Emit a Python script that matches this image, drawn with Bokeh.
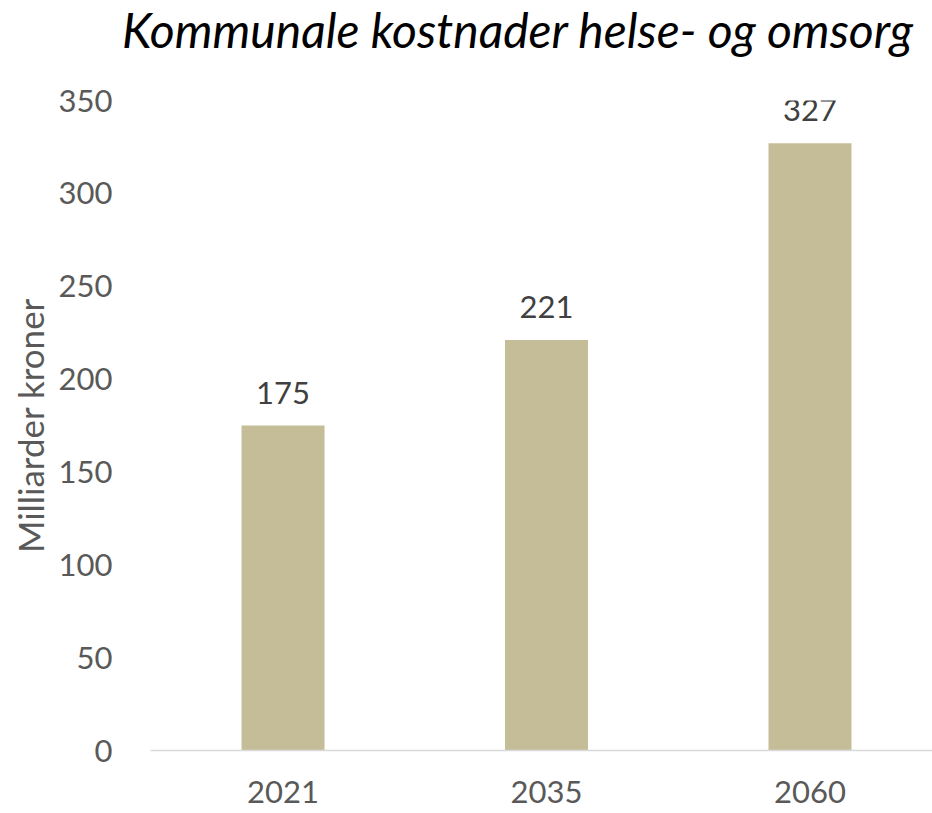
from bokeh.plotting import figure
from bokeh.layouts import column
from bokeh.models import Range1d, FixedTicker, ColumnDataSource, LabelSet, Div
from bokeh.core.properties import value
from bokeh.embed import file_html
from bokeh.resources import INLINE

years = ["2021", "2035", "2060"]
values = [175, 221, 327]
y_ticks = [0, 50, 100, 150, 200, 250, 300, 350]
title_text = "Kommunale kostnader helse- og omsorg"
y_label = "Milliarder kroner"

positions = list(range(len(years)))
src = ColumnDataSource(dict(x=positions, top=values, label=[str(v) for v in values]))

FONT = "Lato"
W = 932
TITLE_H = 60
MAIN_H = 813 - TITLE_H

title = Div(text=title_text, width=W, height=TITLE_H,
            styles={"font-family": FONT, "font-style": "italic", "font-size": "48px",
                    "line-height": "60px", "color": "black", "white-space": "nowrap",
                    "padding-left": "122px", "box-sizing": "border-box", "margin": "0"})

p = figure(width=W, height=MAIN_H, output_backend="svg", toolbar_location=None,
           x_range=Range1d(-0.503, 2.465), y_range=Range1d(0, 350),
           min_border_left=150, min_border_right=0, min_border_top=40, min_border_bottom=63)

p.vbar(x="x", top="top", width=0.315, bottom=0, source=src,
       fill_color="#C4BD97", line_color=None)

labels = LabelSet(x="x", y="top", text="label", source=src, y_offset=22,
                  text_align="center", text_baseline="alphabetic",
                  text_font=value(FONT), text_font_size="31px", text_color="#404040")
p.add_layout(labels)

p.outline_line_color = None
p.xgrid.grid_line_color = None
p.ygrid.grid_line_color = None
p.background_fill_color = "white"
p.border_fill_color = "white"

xa = p.xaxis[0]
xa.ticker = FixedTicker(ticks=positions)
xa.major_label_overrides = {i: y for i, y in enumerate(years)}
xa.axis_line_color = "#D9D9D9"
xa.axis_line_width = 1.5
xa.major_tick_line_color = None
xa.minor_tick_line_color = None
xa.major_label_text_font = FONT
xa.major_label_text_font_size = "31px"
xa.major_label_text_color = "#595959"
xa.major_label_standoff = 24

ya = p.yaxis[0]
ya.ticker = FixedTicker(ticks=y_ticks)
ya.axis_line_color = None
ya.major_tick_line_color = None
ya.minor_tick_line_color = None
ya.major_label_text_font = FONT
ya.major_label_text_font_size = "31px"
ya.major_label_text_color = "#595959"
ya.major_label_standoff = 32
ya.axis_label = y_label
ya.axis_label_text_font = FONT
ya.axis_label_text_font_size = "35px"
ya.axis_label_text_font_style = "normal"
ya.axis_label_text_color = "#595959"
ya.axis_label_standoff = 5

layout = column(title, p, spacing=0)
open("out.html", "w").write(file_html(layout, INLINE))
